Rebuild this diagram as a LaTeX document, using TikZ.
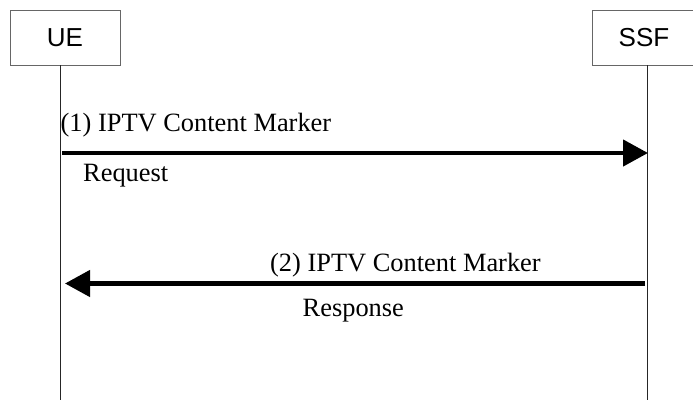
\documentclass[tikz,border=0pt]{standalone}
\usepackage{fontspec}
\setmainfont{Liberation Serif}
\newfontfamily\boxfont{Liberation Sans}
\usetikzlibrary{arrows.meta}
\begin{document}
\begin{tikzpicture}[x=1pt,y=-1pt,
  boxline/.style={draw=black!60, line width=1pt},
  entity/.style={boxline, minimum height=55pt, inner sep=0pt, font=\boxfont\fontsize{26}{26}\selectfont},
  lifeline/.style={draw=black!85, line width=0.9pt},
  msg/.style={line width=4.5pt, -{Triangle[length=25pt,width=26pt]}},
  lbl/.style={anchor=base west, inner sep=0pt, font=\fontsize{26.4}{27}\selectfont}]
\useasboundingbox (0,0) rectangle (693,400);
\draw[boxline] (693,10) -- (592,10) -- (592,65) -- (693,65);
\node[entity, minimum width=110pt] (ue) at (65,37.5) {UE};
\node[inner sep=0pt, minimum height=55pt, font=\boxfont\fontsize{26}{26}\selectfont] (ssf) at (644,37.5) {SSF};
\coordinate (ueend) at (60,400);
\coordinate (ssfend) at (647,400);
\draw[lifeline] (60,65) -- (ueend);
\draw[lifeline] (647,65) -- (ssfend);
\coordinate (a1s) at (62,153);
\coordinate (a1e) at (648,153);
\coordinate (a2s) at (645,283.5);
\coordinate (a2e) at (65,283.5);
\draw[msg] (a1s) -- (a1e);
\draw[msg] (a2s) -- (a2e);
\node[lbl] (l1) at (60.5,131) {(1) IPTV Content Marker};
\node[lbl] (l1b) at (83,181) {Request};
\node[lbl] (l2) at (270,271) {(2) IPTV Content Marker};
\node[lbl] (l2b) at (302.5,316) {Response};
\end{tikzpicture}
\end{document}
